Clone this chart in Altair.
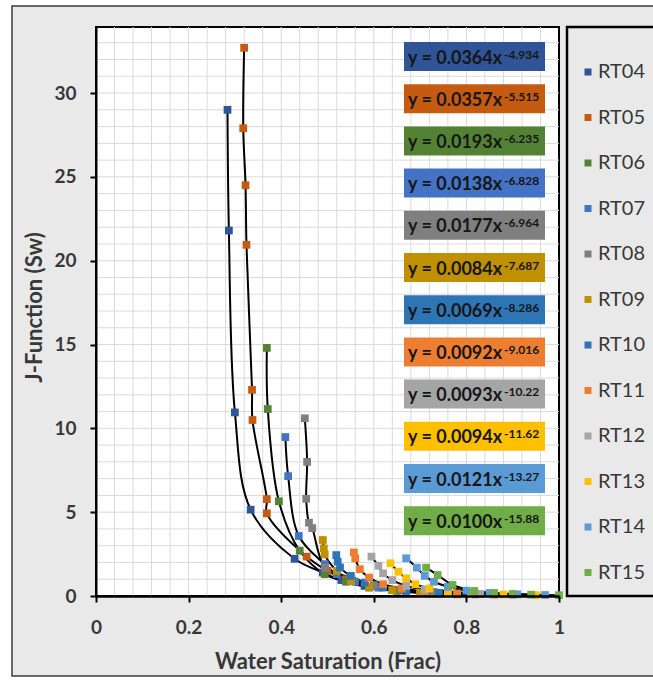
import altair as alt
import pandas as pd

# Rock types and their colours
series = ["RT04", "RT05", "RT06", "RT07", "RT08", "RT09",
          "RT10", "RT11", "RT12", "RT13", "RT14", "RT15"]
colors = ["#2F5597", "#C55A11", "#548235", "#4472C4", "#7F7F7F", "#BF9000",
          "#2E75B6", "#ED7D31", "#A5A5A5", "#FFC000", "#5B9BD5", "#70AD47"]

# Water saturation (fraction) and J-function for each rock type
sw_rt04 = [0.284, 0.287, 0.300, 0.334, 0.429, 0.490, 0.530, 0.580, 0.640, 0.700]
j_rt04 = [29.0, 21.8, 10.95, 5.15, 2.22, 1.40, 0.95, 0.60, 0.35, 0.20]
sw_rt05 = [0.320, 0.318, 0.323, 0.325, 0.337, 0.338, 0.369, 0.369, 0.455, 0.500, 0.540, 0.600, 0.660, 0.720]
j_rt05 = [32.7, 27.9, 24.5, 20.95, 12.3, 10.5, 5.78, 4.93, 2.35, 1.50, 1.00, 0.60, 0.35, 0.20]
sw_rt06 = [0.369, 0.371, 0.395, 0.440, 0.494, 0.540, 0.590, 0.650, 0.720]
j_rt06 = [14.8, 11.15, 5.65, 2.70, 1.30, 0.85, 0.50, 0.30, 0.15]
sw_rt07 = [0.409, 0.415, 0.438, 0.494, 0.520, 0.560, 0.610, 0.670, 0.740]
j_rt07 = [9.48, 7.15, 3.58, 1.90, 1.30, 0.85, 0.50, 0.30, 0.15]
sw_rt08 = [0.451, 0.456, 0.454, 0.460, 0.467, 0.495, 0.550, 0.600, 0.660, 0.730]
j_rt08 = [10.6, 8.0, 5.8, 4.37, 4.05, 1.70, 1.10, 0.65, 0.40, 0.20]
sw_rt09 = [0.490, 0.492, 0.494, 0.520, 0.551, 0.590, 0.640, 0.700, 0.780]
j_rt09 = [3.34, 2.84, 2.48, 1.50, 0.90, 0.55, 0.35, 0.20, 0.10]
sw_rt10 = [0.519, 0.522, 0.527, 0.550, 0.580, 0.620, 0.670, 0.740, 0.820]
j_rt10 = [2.44, 2.05, 1.70, 1.20, 0.80, 0.50, 0.30, 0.18, 0.10]
sw_rt11 = [0.557, 0.560, 0.570, 0.590, 0.620, 0.660, 0.710, 0.780, 0.860]
j_rt11 = [2.60, 2.25, 1.60, 1.10, 0.70, 0.45, 0.28, 0.15, 0.08]
sw_rt12 = [0.595, 0.610, 0.620, 0.640, 0.670, 0.710, 0.760, 0.830, 0.900]
j_rt12 = [2.35, 1.80, 1.35, 0.95, 0.60, 0.38, 0.22, 0.12, 0.06]
sw_rt13 = [0.636, 0.653, 0.670, 0.690, 0.720, 0.760, 0.810, 0.880, 0.950]
j_rt13 = [1.95, 1.45, 1.05, 0.70, 0.45, 0.28, 0.16, 0.09, 0.05]
sw_rt14 = [0.670, 0.693, 0.710, 0.730, 0.760, 0.800, 0.850, 0.910, 0.970]
j_rt14 = [2.25, 1.69, 1.20, 0.85, 0.55, 0.32, 0.18, 0.10, 0.06]
sw_rt15 = [0.713, 0.738, 0.770, 0.817, 0.860, 0.900, 0.940, 1.000]
j_rt15 = [1.69, 1.25, 0.66, 0.30, 0.18, 0.12, 0.08, 0.05]

sw_all = [sw_rt04, sw_rt05, sw_rt06, sw_rt07, sw_rt08, sw_rt09,
          sw_rt10, sw_rt11, sw_rt12, sw_rt13, sw_rt14, sw_rt15]
j_all = [j_rt04, j_rt05, j_rt06, j_rt07, j_rt08, j_rt09,
         j_rt10, j_rt11, j_rt12, j_rt13, j_rt14, j_rt15]

# Power-law trendline equations y = a * x^b
coefs = ["0.0364", "0.0357", "0.0193", "0.0138", "0.0177", "0.0084",
         "0.0069", "0.0092", "0.0093", "0.0094", "0.0121", "0.0100"]
exponents = ["-4.934", "-5.515", "-6.235", "-6.828", "-6.964", "-7.687",
             "-8.286", "-9.016", "-10.22", "-11.62", "-13.27", "-15.88"]

x_ticks = [0, 0.2, 0.4, 0.6, 0.8, 1]
y_ticks = [0, 5, 10, 15, 20, 25, 30]

# ---- layout ----
W, H = 463, 569
Y_MAX = 33.94
FONT = "Lato"
TXT = "#383838"

rows = []
for name, xs, ys in zip(series, sw_all, j_all):
    for k, (xv, yv) in enumerate(zip(xs, ys)):
        rows.append({"series": name, "sw": xv, "j": yv, "idx": k})
pts = pd.DataFrame(rows)

eq = pd.DataFrame({"main": ["y = " + c + "x" for c in coefs],
                   "exp": exponents, "color": colors})
eq["cy"] = [29.5 + 42.2 * i for i in range(len(eq))]
eq["top"] = eq["cy"] - 14.5
eq["bot"] = eq["cy"] + 14.5
eq["base"] = eq["cy"] + 7
eq["sbase"] = eq["cy"] + 2

x_scale = alt.Scale(domain=[0, 1], nice=False, zero=False)
y_scale = alt.Scale(domain=[0, Y_MAX], nice=False, zero=False)

x_axis = alt.Axis(values=x_ticks, format="~g", grid=False, labelFlush=False, labelOverlap=False,
                  domainColor="black", domainWidth=2.5, tickColor="black", tickWidth=2, tickSize=6,
                  labelFont=FONT, labelFontSize=19, labelFontWeight="bold", labelColor=TXT,
                  labelPadding=16, title="Water Saturation (Frac)", titleFont=FONT,
                  titleFontSize=22, titleFontWeight="bold", titleColor=TXT,
                  titleY=65, titleBaseline="middle", zindex=1)
y_axis = alt.Axis(values=y_ticks, grid=False, labelOverlap=False,
                  domainColor="black", domainWidth=2, tickColor="black", tickWidth=2, tickSize=6,
                  labelFont=FONT, labelFontSize=19, labelFontWeight="bold", labelColor=TXT,
                  labelPadding=14, title="J-Function (Sw)", titleFont=FONT,
                  titleFontSize=22, titleFontWeight="bold", titleColor=TXT,
                  titleX=-62, titleY=280, titleAngle=270, titleAlign="center",
                  titleBaseline="middle", zindex=1)

one = pd.DataFrame({"k": [0]})

# outer gray panel with frame
panel = alt.Chart(one).mark_rect(fill="#e9e9e9", stroke="#3c3c3c", strokeWidth=1.5).encode(
    x=alt.value(-84), x2=alt.value(580), y=alt.value(-21), y2=alt.value(649))

# white plot area with black border
plot_bg = alt.Chart(one).mark_rect(fill="white", stroke="black", strokeWidth=2).encode(
    x=alt.value(0), x2=alt.value(W), y=alt.value(0), y2=alt.value(H))

# minor gridlines
vgrid = alt.Chart(pd.DataFrame({"v": [round(0.04 * i, 2) for i in range(1, 25)]})).mark_rule(
    color="#dadada", strokeWidth=1).encode(x=alt.X("v:Q", scale=x_scale, axis=x_axis))
hgrid = alt.Chart(pd.DataFrame({"v": list(range(1, 34))})).mark_rule(
    color="#dadada", strokeWidth=1).encode(y=alt.Y("v:Q", scale=y_scale, axis=y_axis))

lines = alt.Chart(pts).mark_line(color="black", strokeWidth=2, interpolate="catmull-rom").encode(
    x=alt.X("sw:Q", scale=x_scale, axis=x_axis),
    y=alt.Y("j:Q", scale=y_scale, axis=y_axis),
    detail="series:N", order="idx:Q")

points = alt.Chart(pts).mark_square(size=60, opacity=1).encode(
    x=alt.X("sw:Q", scale=x_scale, axis=x_axis),
    y=alt.Y("j:Q", scale=y_scale, axis=y_axis),
    color=alt.Color("series:N", scale=alt.Scale(domain=series, range=colors),
                    legend=alt.Legend(title=None, orient="none", legendX=482, legendY=35,
                                      symbolType="square", symbolSize=49, symbolStrokeWidth=0,
                                      labelFont=FONT, labelFontSize=20, labelColor=TXT,
                                      labelOffset=0, rowPadding=25.5, padding=0)))

boxes = alt.Chart(eq).mark_rect().encode(
    x=alt.value(308), x2=alt.value(449),
    y=alt.Y("top:Q", scale=None), y2="bot:Q",
    fill=alt.Fill("color:N", scale=None))

eq_main = alt.Chart(eq).mark_text(align="left", baseline="alphabetic", font=FONT, fontSize=18,
                                  fontWeight="bold", color="#161616").encode(
    x=alt.value(312), y=alt.Y("base:Q", scale=None), text="main:N")

eq_sup = alt.Chart(eq).mark_text(align="left", baseline="alphabetic", font=FONT, fontSize=12,
                                 fontWeight="bold", color="#161616").encode(
    x=alt.value(408), y=alt.Y("sbase:Q", scale=None), text="exp:N")

legend_box = alt.Chart(one).mark_rect(fillOpacity=0, stroke="black", strokeWidth=2.5).encode(
    x=alt.value(471), x2=alt.value(600), y=alt.value(0), y2=alt.value(H))

chart = alt.layer(panel, plot_bg, vgrid, hgrid, lines, points, boxes, eq_main, eq_sup, legend_box).properties(
    width=W, height=H,
    padding={"left": 96, "top": 27, "right": 94, "bottom": 86},
    autosize=alt.AutoSizeParams(type="none"),
    background="white",
).configure_view(stroke=None)

chart.save("out.html", embed_options={"renderer": "svg", "actions": False})
